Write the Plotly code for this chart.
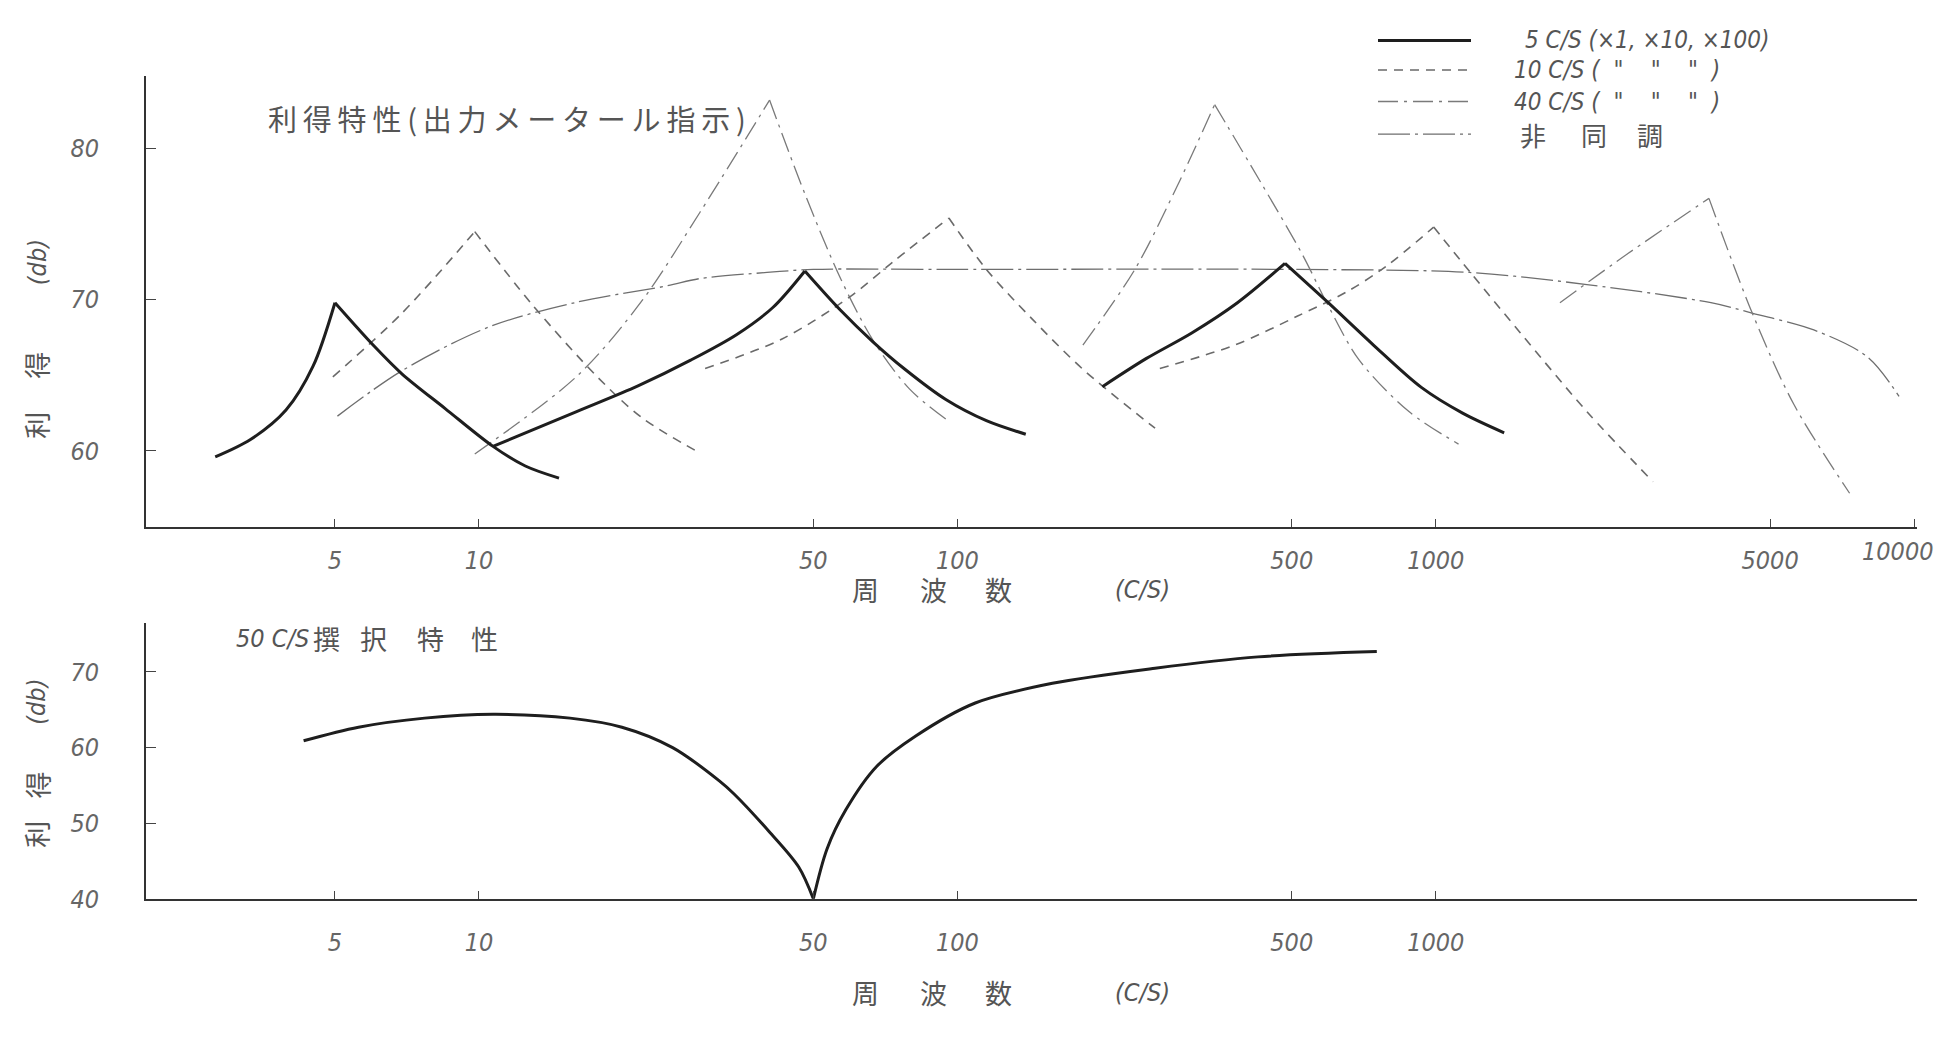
import numpy as np
import plotly.graph_objects as go

# ---------------- data (frequency in c/s, gain in dB) ----------------
# 5 c/s tuned (x1, x10, x100)
s5_f1 = [2.81, 3.33, 3.95, 4.5, 5.0, 6.05, 6.9, 8.5, 10.7, 12.5, 14.7]
s5_g1 = [59.6, 60.75, 62.7, 65.6, 69.8, 66.9, 65.1, 62.8, 60.3, 59.0, 58.2]
s5_f2 = [10.7, 16.0, 21.5, 27.7, 34.6, 41.2, 48.0, 57.0, 66.7, 77.7, 94.6, 115, 139]
s5_g2 = [60.3, 62.6, 64.3, 66.0, 67.7, 69.5, 71.9, 69.3, 67.2, 65.4, 63.4, 62.0, 61.1]
s5_f3 = [201, 248, 309, 385, 484, 596, 741, 933, 1138, 1390]
s5_g3 = [64.25, 66.1, 67.8, 69.8, 72.4, 69.8, 67.0, 64.2, 62.5, 61.2]
# 10 c/s tuned
s10_f1 = [4.95, 6.9, 9.8, 12.9, 17.8, 21.9, 28.8]
s10_g1 = [64.9, 69.1, 74.5, 69.7, 64.8, 62.2, 59.9]
s10_f2 = [29.7, 43, 59.7, 74, 96, 115, 143.6, 183, 259]
s10_g2 = [65.45, 67.4, 70.2, 72.6, 75.4, 72.0, 68.7, 65.4, 61.5]
s10_f3 = [265, 380, 513, 650, 787, 990, 1185, 1503, 2070, 2845]
s10_g3 = [65.45, 67.0, 68.9, 70.5, 72.2, 74.8, 71.75, 67.8, 62.6, 57.96]
# 40 c/s tuned
s40_f1 = [9.8, 16.1, 22, 29, 40.5, 48, 57, 66.7, 79.4, 94.6]
s40_g1 = [59.8, 65.0, 70.0, 75.8, 83.2, 77.0, 71.4, 67.3, 64.1, 62.1]
s40_f2 = [183, 235, 288, 345, 430, 525, 596, 692, 879, 1116]
s40_g2 = [67.0, 72.0, 77.5, 82.9, 77.8, 73.05, 69.6, 66.0, 62.6, 60.45]
s40_f3 = [1818, 2522, 3725, 4590, 5600, 7330]
s40_g3 = [69.8, 73.05, 76.7, 69.1, 63.1, 57.2]
# non-tuned
nt_f = [5.06, 6.9, 10.5, 16.1, 24.6, 29, 40, 50, 100, 500, 1175, 2070, 3760, 4600, 6170, 8000, 9300]
nt_g = [62.3, 65.3, 68.2, 69.85, 70.9, 71.4, 71.8, 72.0, 72.0, 72.0, 71.8, 71.0, 69.8, 69.1, 68.0, 66.2, 63.6]
# 50 c/s selectivity (lower chart)
b_f = [4.3, 5.6, 7.7, 10.7, 15.5, 19.9, 25.4, 31.8, 34.1, 40.4, 46.6, 50, 53.4, 58.5, 67.8, 81.7, 109, 158, 259, 425, 753]
b_g = [60.9, 62.7, 63.9, 64.4, 63.9, 62.7, 60.0, 55.6, 53.9, 48.9, 44.2, 40.0, 46.6, 51.8, 57.5, 61.5, 65.9, 68.5, 70.5, 72.0, 72.7]

x_ticks_top = [5, 10, 50, 100, 500, 1000, 5000, 10000]
x_text_top = ["5", "10", "50", "100", "500", "1000", "5000", ""]   # 10000 drawn at the page edge below
x_ticks_bot = [5, 10, 50, 100, 500, 1000]
y_ticks_top = [60, 70, 80]
y_ticks_bot = [40, 50, 60, 70]

# ---------------- styles ----------------
W, H = 1938, 1037
NUM = "Liberation Sans Narrow, DejaVu Sans Condensed, Liberation Sans, sans-serif"
CJK = "Noto Sans CJK JP, Noto Sans CJK SC, sans-serif"
TXT = "#555555"

st_solid = dict(color="#1e1e1e", width=3.0, dash="solid")
st_10 = dict(color="#6a6a6a", width=1.6, dash="9px,7px")
st_40 = dict(color="#7a7a7a", width=1.3, dash="20px,6px,3px,6px")
st_nt = dict(color="#6e6e6e", width=1.3, dash="32px,5px,3px,5px")

fig = go.Figure()


def add_branches(f, g, style, xa, ya, split="max"):
    k = int(np.argmax(g)) if split == "max" else int(np.argmin(g))
    for pf, pg in ((f[:k + 1], g[:k + 1]), (f[k:], g[k:])):
        fig.add_trace(go.Scatter(x=pf, y=pg, mode="lines", xaxis=xa, yaxis=ya,
                                 line=dict(shape="spline", smoothing=0.9, **style),
                                 hoverinfo="skip", showlegend=False))


fig.add_trace(go.Scatter(x=nt_f, y=nt_g, mode="lines", xaxis="x", yaxis="y",
                         line=dict(shape="spline", smoothing=0.9, **st_nt),
                         hoverinfo="skip", showlegend=False))
for f, g in ((s40_f1, s40_g1), (s40_f2, s40_g2), (s40_f3, s40_g3)):
    add_branches(f, g, st_40, "x", "y")
for f, g in ((s10_f1, s10_g1), (s10_f2, s10_g2), (s10_f3, s10_g3)):
    add_branches(f, g, st_10, "x", "y")
for f, g in ((s5_f1, s5_g1), (s5_f2, s5_g2), (s5_f3, s5_g3)):
    add_branches(f, g, st_solid, "x", "y")
add_branches(b_f, b_g, st_solid, "x2", "y2", split="min")


def px(x):
    return x / W


def py(y):
    return 1 - y / H


tick_font = dict(family=NUM, size=25, color="#666666", style="italic")
axis_common = dict(showline=True, linecolor="#333333", linewidth=1.6, ticks="inside",
                   tickcolor="#444444", tickwidth=1.2, showgrid=False, zeroline=False,
                   tickfont=tick_font)

fig.update_layout(
    width=W, height=H, margin=dict(l=0, r=0, t=0, b=0),
    paper_bgcolor="white", plot_bgcolor="white", showlegend=False,
    xaxis=dict(type="log", range=[0.304, 4.006], domain=[px(146), px(1917)], anchor="y",
               tickvals=x_ticks_top, ticktext=x_text_top,
               ticklen=8, ticklabelstandoff=10, **axis_common),
    yaxis=dict(range=[54.95, 84.8], domain=[py(535), py(77)], anchor="x",
               tickvals=y_ticks_top, ticktext=[str(v) for v in y_ticks_top],
               ticklen=10, ticklabelstandoff=40, **axis_common),
    xaxis2=dict(type="log", range=[0.304, 4.006], domain=[px(146), px(1917)], anchor="y2",
                tickvals=x_ticks_bot, ticktext=[str(v) for v in x_ticks_bot],
                ticklen=8, ticklabelstandoff=20, **axis_common),
    yaxis2=dict(range=[40, 76.5], domain=[py(912), py(632)], anchor="x2",
                tickvals=y_ticks_bot, ticktext=[str(v) for v in y_ticks_bot],
                ticklen=10, ticklabelstandoff=40, **axis_common),
)


def put(text, x, y, size=26, family=CJK, color=TXT, angle=0, italic=False, anchor="center"):
    fig.add_annotation(x=px(x), y=py(y), xref="paper", yref="paper", text=text,
                       showarrow=False, xanchor=anchor, yanchor="middle", textangle=angle,
                       font=dict(size=size, family=family, color=color,
                                 style="italic" if italic else "normal"))


# last tick label of the upper axis, pushed against the page edge as in the original
put(str(x_ticks_top[-1]), 1936, 560, size=25, family=NUM, color="#666666", italic=True, anchor="right")

# titles inside charts
put("\u2009".join("利得特性(出力メータール指示)"), 266, 120, size=29, anchor="left")
put("50 C/S", 272, 648, size=25, family=NUM, italic=True)
for ch, cx in zip("撰択特性", [326, 373, 430, 485]):
    put(ch, cx, 648, size=27)

# axis titles
for ch, cy in (("利", 432), ("得", 371)):
    put(ch, 37, cy, size=27, angle=-90)
put("(db)", 37, 266, size=25, family=NUM, italic=True, angle=-90)
for ch, cy in (("利", 847), ("得", 797)):
    put(ch, 37, cy, size=27, angle=-90)
put("(db)", 37, 712, size=25, family=NUM, italic=True, angle=-90)
for yy in (598, 1007):
    for ch, cx in zip("周波数", [865, 933, 999]):
        put(ch, cx, yy, size=27)
    put("(C/S)", 1142, yy, size=25, family=NUM, italic=True)

# legend (drawn by hand to match the original key)
legend_rows = [
    (41, "5 C/S (×1, ×10, ×100)", st_solid, 1523),
    (71, '10 C/S (  "    "    "  )', st_10, 1512),
    (103, '40 C/S (  "    "    "  )', st_40, 1512),
    (136, None, st_nt, 1520),
]
for ly, label, st, tx in legend_rows:
    fig.add_shape(type="line", xref="paper", yref="paper",
                  x0=px(1378), x1=px(1471), y0=py(ly), y1=py(ly),
                  line=dict(color=st["color"], width=st["width"], dash=st["dash"]))
    if label:
        put(label, tx, ly, size=24, family=NUM, italic=True, anchor="left")
for ch, cx in zip("非同調", [1533, 1594, 1650]):
    put(ch, cx, 136, size=26)

fig.write_html("out.html")
